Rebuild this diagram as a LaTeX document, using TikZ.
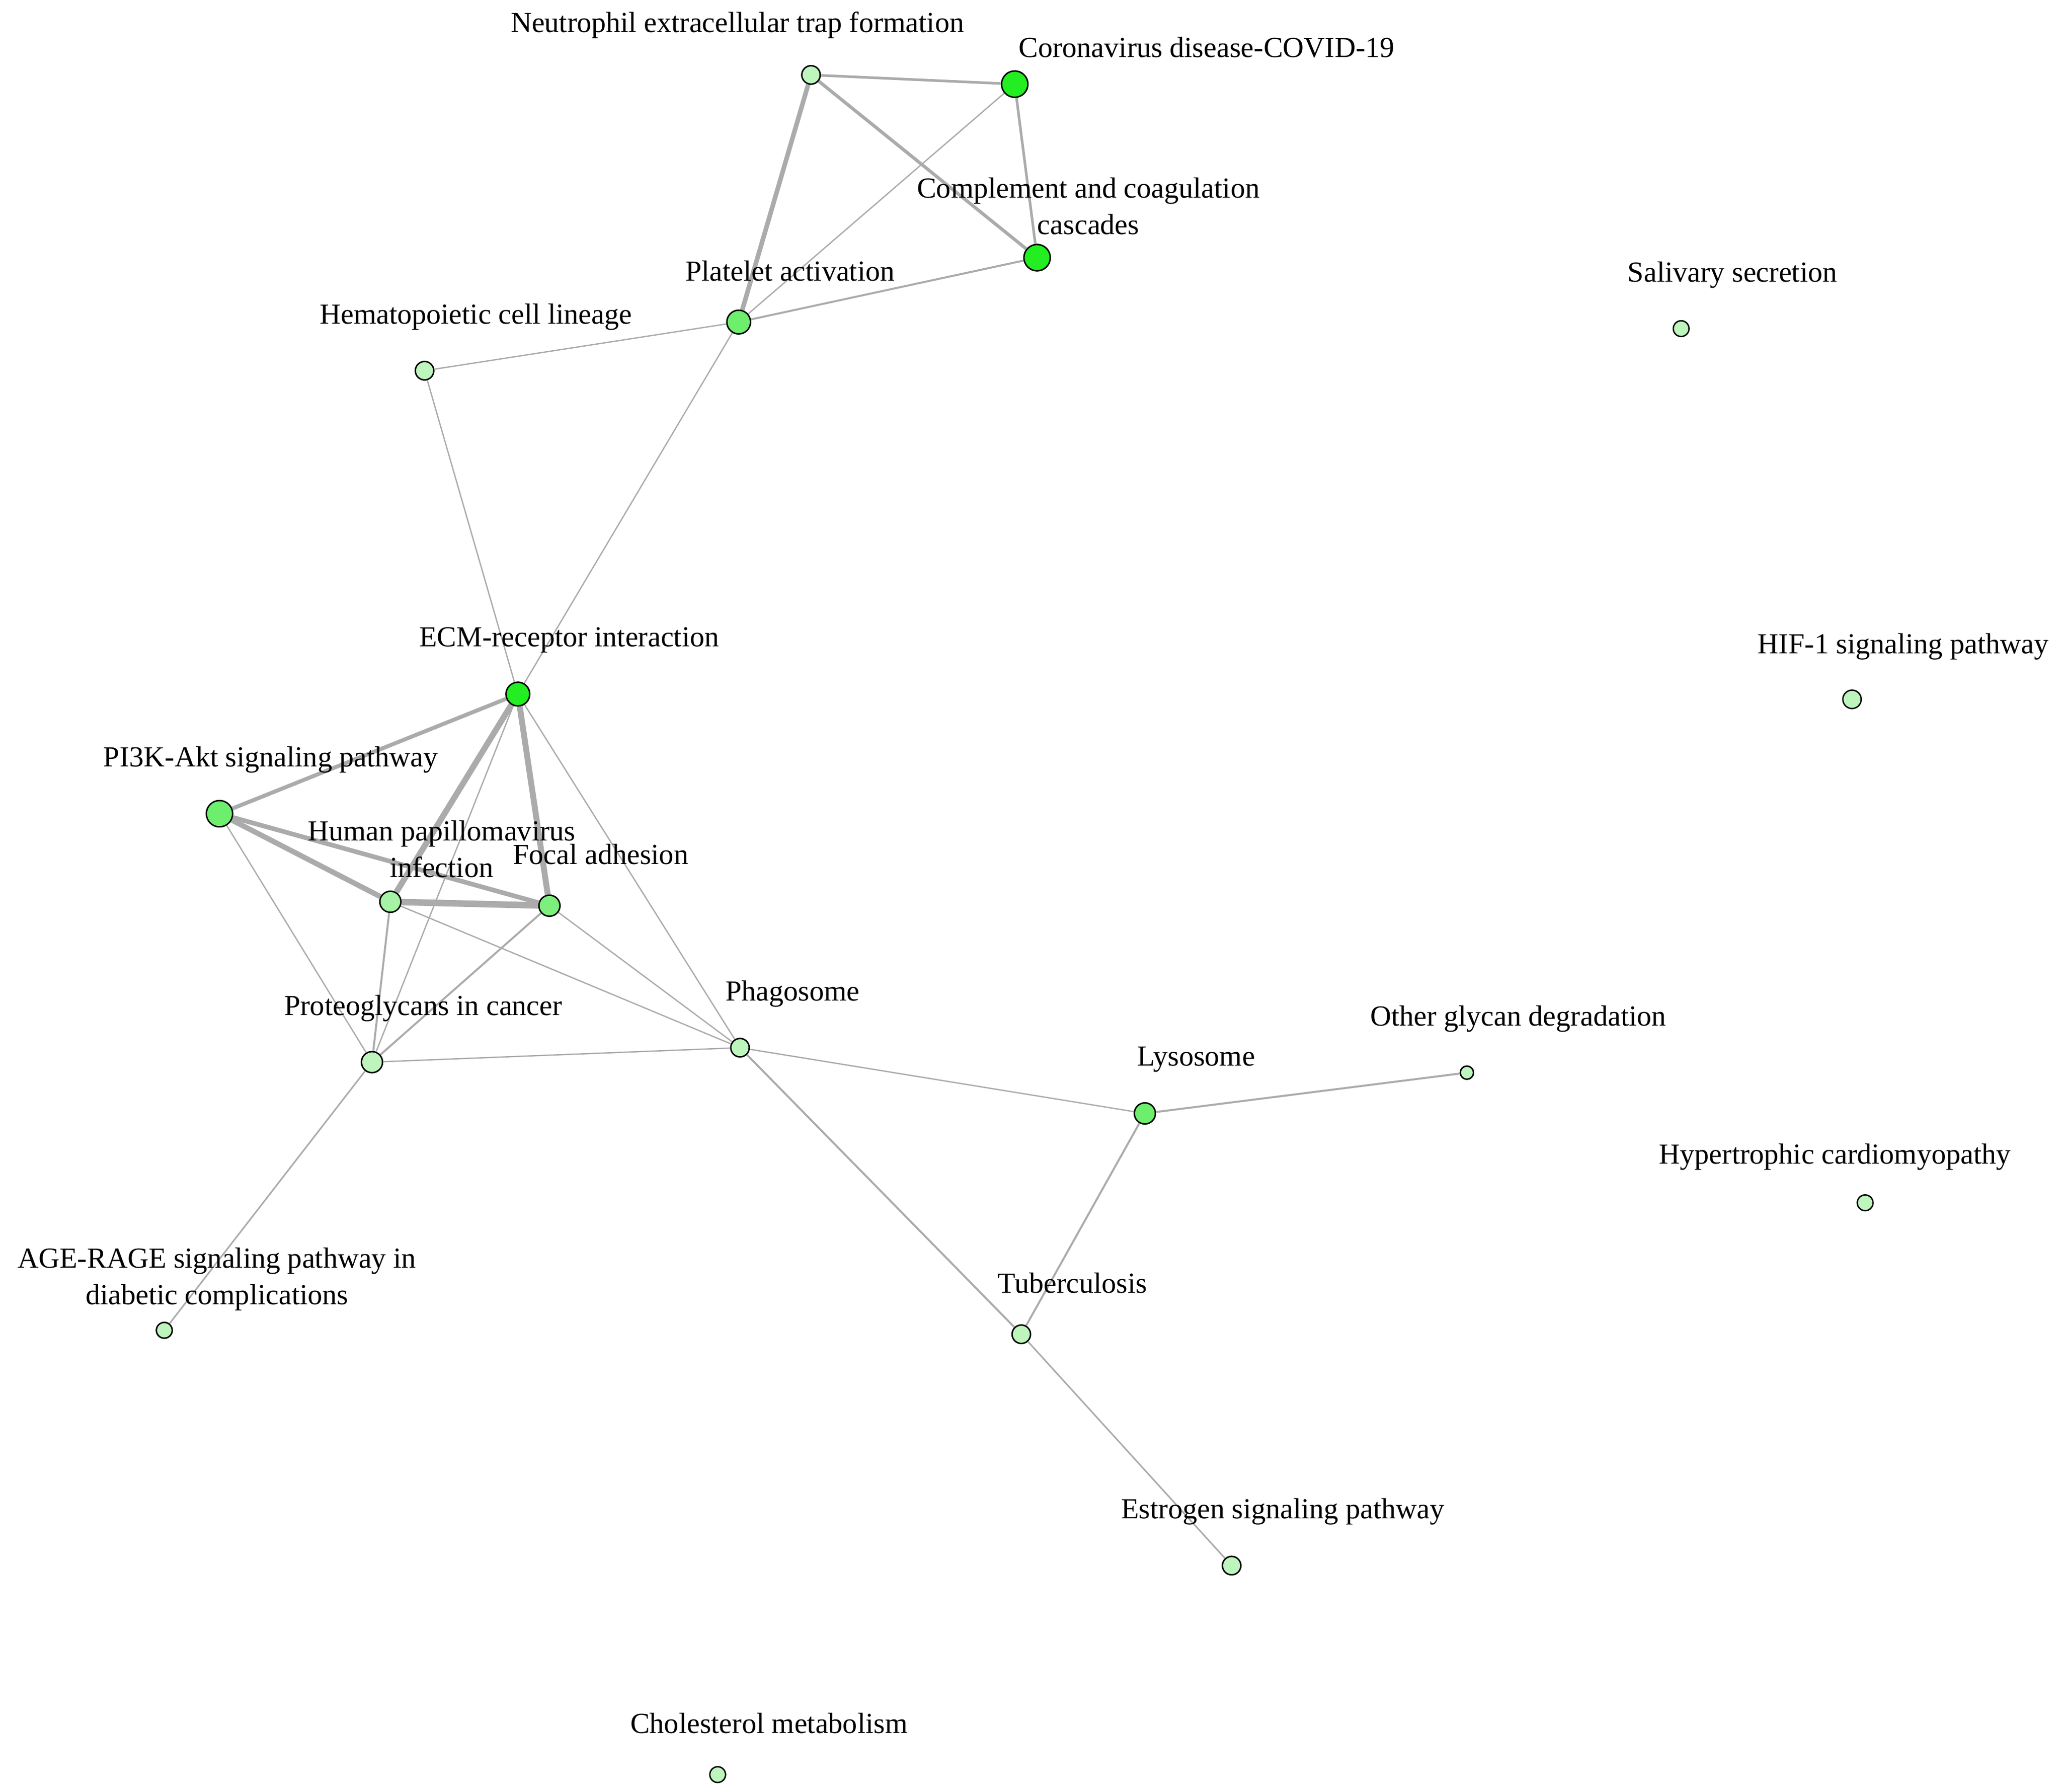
\documentclass[tikz,border=0pt]{standalone}
\usepackage{fontspec}
\setmainfont{Liberation Serif}
\begin{document}
\begin{tikzpicture}[x=0.02cm,y=-0.02cm,
  nd/.style={circle,draw=black,line width=0.6pt,inner sep=0pt,minimum size=#1*0.04cm},
  lab/.style={font=\fontsize{12.6}{15.8}\selectfont,align=center,inner sep=0pt},
  ed/.style={draw=black!33,line width=#1*0.567pt}]
\definecolor{cb}{HTML}{22EE22}
\definecolor{cm}{HTML}{6DEE6D}
\definecolor{cl}{HTML}{BDF5BD}
\fill[white] (0,0) rectangle (1568,1363);
% nodes
\node[nd=7,fill=cl] (NET) at (617,57) {};
\node[nd=10,fill=cb] (COV) at (772,64) {};
\node[nd=10,fill=cb] (CMP) at (789,196) {};
\node[nd=9,fill=cm] (PLT) at (562,245) {};
\node[nd=7,fill=cl] (HEM) at (323,282) {};
\node[nd=6,fill=cl] (SAL) at (1279,250) {};
\node[nd=9,fill=cb] (ECM) at (394,528) {};
\node[nd=7,fill=cl] (HIF) at (1409,532) {};
\node[nd=10,fill=cm] (PI3) at (167,619) {};
\node[nd=8,fill=cl!70!cm] (HPV) at (297,686) {};
\node[nd=8,fill=cm!80!cl] (FOC) at (418,689) {};
\node[nd=8,fill=cl] (PRO) at (283,808) {};
\node[nd=7,fill=cl] (PHA) at (563,797) {};
\node[nd=8,fill=cm] (LYS) at (871,847) {};
\node[nd=5,fill=cl] (OTH) at (1116,816) {};
\node[nd=6,fill=cl] (HYP) at (1419,915) {};
\node[nd=6,fill=cl] (AGE) at (125,1012) {};
\node[nd=7,fill=cl] (TUB) at (777,1015) {};
\node[nd=7,fill=cl] (EST) at (937,1191) {};
\node[nd=6,fill=cl] (CHO) at (546,1350) {};
% edges
\foreach \a/\b/\w in {NET/COV/2,NET/CMP/2.5,NET/PLT/3.5,COV/CMP/2,COV/PLT/1,CMP/PLT/1.5,PLT/HEM/1,PLT/ECM/1,HEM/ECM/1,
  ECM/PI3/3,ECM/HPV/4.5,ECM/FOC/4.5,ECM/PRO/1,ECM/PHA/1,PI3/HPV/4,PI3/FOC/3.5,PI3/PRO/1,HPV/FOC/5,HPV/PRO/1.5,HPV/PHA/1,
  FOC/PRO/1.5,FOC/PHA/1,PRO/PHA/1,PRO/AGE/1.2,PHA/LYS/1,PHA/TUB/1.5,LYS/TUB/1.5,LYS/OTH/1.5,TUB/EST/1.2}
  \draw[ed=\w] (\a) -- (\b);
% redraw connected nodes on top of edges
\node[nd=7,fill=cl] at (NET) {};
\node[nd=10,fill=cb] at (COV) {};
\node[nd=10,fill=cb] at (CMP) {};
\node[nd=9,fill=cm] at (PLT) {};
\node[nd=7,fill=cl] at (HEM) {};
\node[nd=9,fill=cb] at (ECM) {};
\node[nd=10,fill=cm] at (PI3) {};
\node[nd=8,fill=cl!70!cm] at (HPV) {};
\node[nd=8,fill=cm!80!cl] at (FOC) {};
\node[nd=8,fill=cl] at (PRO) {};
\node[nd=7,fill=cl] at (PHA) {};
\node[nd=8,fill=cm] at (LYS) {};
\node[nd=5,fill=cl] at (OTH) {};
\node[nd=6,fill=cl] at (AGE) {};
\node[nd=7,fill=cl] at (TUB) {};
\node[nd=7,fill=cl] at (EST) {};
% labels
\node[lab] (lNET) at (561,19) {Neutrophil extracellular trap formation};
\node[lab] (lCOV) at (918,36) {Coronavirus disease-COVID-19};
\node[lab] (lCMP) at (828,157) {Complement and coagulation\\cascades};
\node[lab] (lPLT) at (601,206) {Platelet activation};
\node[lab] (lHEM) at (362,241) {Hematopoietic cell lineage};
\node[lab] (lSAL) at (1318,209) {Salivary secretion};
\node[lab] (lECM) at (433,487) {ECM-receptor interaction};
\node[lab] (lHIF) at (1448,492) {HIF-1 signaling pathway};
\node[lab] (lPI3) at (206,578) {PI3K-Akt signaling pathway};
\node[lab] (lHPV) at (336,646) {Human papillomavirus\\infection};
\node[lab] (lFOC) at (457,650) {Focal adhesion};
\node[lab] (lPRO) at (322,767) {Proteoglycans in cancer};
\node[lab] (lPHA) at (603,756) {Phagosome};
\node[lab] (lLYS) at (910,806) {Lysosome};
\node[lab] (lOTH) at (1155,775) {Other glycan degradation};
\node[lab] (lHYP) at (1396,880) {Hypertrophic cardiomyopathy};
\node[lab] (lAGE) at (165,973) {AGE-RAGE signaling pathway in\\diabetic complications};
\node[lab] (lTUB) at (816,976) {Tuberculosis};
\node[lab] (lEST) at (976,1150) {Estrogen signaling pathway};
\node[lab] (lCHO) at (585,1311) {Cholesterol metabolism};
\end{tikzpicture}
\end{document}
